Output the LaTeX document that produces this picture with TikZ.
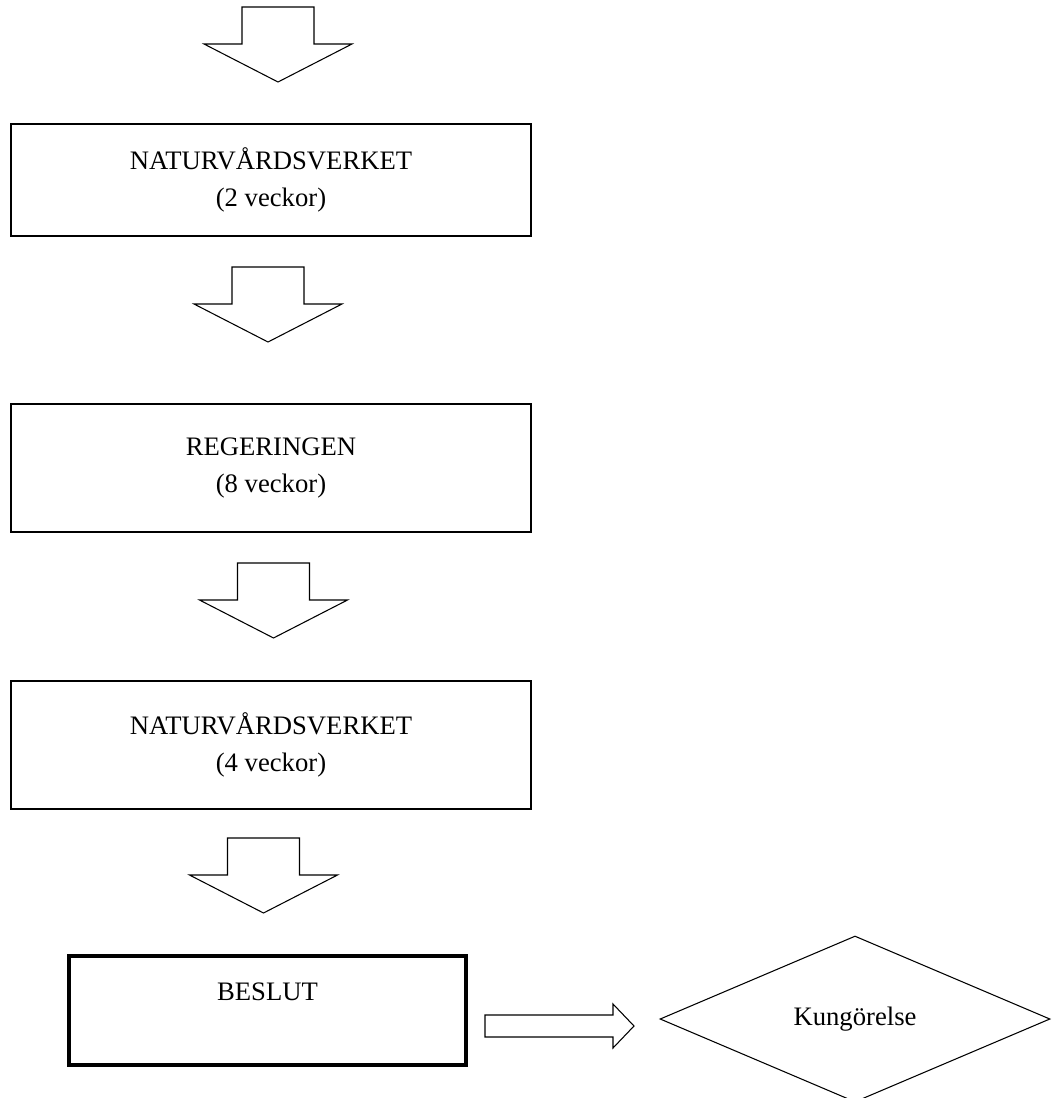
\documentclass[tikz,border=0pt]{standalone}
\usepackage{fontspec}
\setmainfont{Liberation Serif}
\usetikzlibrary{shapes.geometric}
\tikzset{
  box/.style={draw=black, line width=0.8pt, rectangle, inner sep=0pt, align=center,
    font=\fontsize{20}{27.75}\selectfont},
  thickbox/.style={box, line width=3pt},
  blockarrow/.style={draw=black, line width=0.8pt, fill=white, line join=miter},
  kung/.style={draw=black, line width=0.8pt, shape=diamond, aspect=2.35, inner sep=0pt,
    minimum width=292.5pt, minimum height=124.5pt, font=\fontsize{20}{24}\selectfont},
  pics/downarrow/.style={code={
    \draw[blockarrow] (-36,0) -- (36,0) -- (36,37) -- (74,37) -- (0,75) -- (-74,37) -- (-36,37) -- cycle;
  }}
}
\begin{document}
\begin{tikzpicture}[x=0.75pt, y=-0.75pt]
\useasboundingbox (0,0) rectangle (1054,1098);
% block arrows down
\pic at (278,7) {downarrow};
\node[box, minimum width=390pt, minimum height=84pt] (nv1) at (271,180) {NATURVÅRDSVERKET\\(2 veckor)};
\pic at (268,267) {downarrow};
\node[box, minimum width=390pt, minimum height=96pt] (reg) at (271,468) {REGERINGEN\\(8 veckor)};
\pic at (273.5,563) {downarrow};
\node[box, minimum width=390pt, minimum height=96pt] (nv2) at (271,745) {NATURVÅRDSVERKET\\(4 veckor)};
\pic at (263.5,838) {downarrow};
\node[thickbox, minimum width=297.75pt, minimum height=81.75pt] (beslut) at (267.5,1010.5) {BESLUT\\\mbox{}};
\node[kung] (kg) at (855,1019) {\raisebox{-3.5pt}{Kungörelse}};
% right block arrow from beslut to kg
\coordinate (ra) at (485,1026);
\draw[blockarrow] (ra) ++(0,-11) -- ++(128,0) -- ++(0,-11) -- (634,1026) -- (613,1048) -- (613,1037) -- (485,1037) -- cycle;
\end{tikzpicture}
\end{document}
